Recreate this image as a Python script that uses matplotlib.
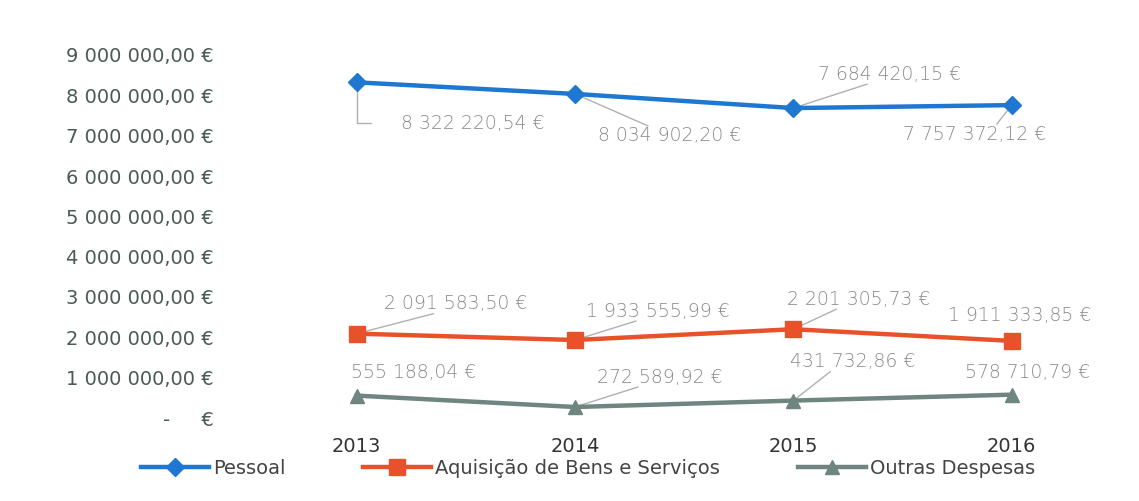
import matplotlib
matplotlib.use("Agg")
import matplotlib.pyplot as plt

years = ["2013", "2014", "2015", "2016"]
pessoal = [8322220.54, 8034902.20, 7684420.15, 7757372.12]
aquisicao = [2091583.50, 1933555.99, 2201305.73, 1911333.85]
outras = [555188.04, 272589.92, 431732.86, 578710.79]
series_names = ["Pessoal", "Aquisição de Bens e Serviços", "Outras Despesas"]
yticks = [0, 1e6, 2e6, 3e6, 4e6, 5e6, 6e6, 7e6, 8e6, 9e6]

def eur(v):
    s = f"{v:,.2f}".replace(",", " ").replace(".", ",")
    return s + " €"

def tick_eur(v):
    if v == 0:
        return "-     €"
    return eur(v)

fig = plt.figure(figsize=(11.39, 5.01), dpi=100)
ax = fig.add_axes([230/1139, (501-418)/501, (1110-230)/1139, (418-55)/501])

x = list(range(len(years)))
colors = ["#1E78D2", "#E8522A", "#6F8580"]
markers = ["D", "s", "^"]
msizes = [9, 12, 10]
data = [pessoal, aquisicao, outras]
for vals, c, m, ms, name in zip(data, colors, markers, msizes, series_names):
    ax.plot(x, vals, color=c, lw=3.2, marker=m, markersize=ms, label=name,
            clip_on=False, zorder=3)

# label offsets in pixels (text center relative to marker) and leader style
offsets = {
    0: [(116, -41, "L"), (95, -42, True), (96, 34, True), (-37, -29, True)],
    1: [(99, 30, True), (83, 29, True), (65, 30, True), (8, 25, False)],
    2: [(57, 23, False), (85, 30, True), (59, 39, True), (16, 22, False)],
}
for si, vals in enumerate(data):
    for i, v in enumerate(vals):
        dx, dy, lead = offsets[si][i]
        ax.annotate(eur(v), xy=(i, v), xytext=(dx, dy), textcoords="offset pixels",
                    ha="center", va="center", fontsize=13.5, color="#8a8a8a",
                    family="DejaVu Sans", fontweight="light", zorder=4)
        if lead is True:
            ax.annotate("", xy=(i, v),
                        xytext=(dx - 22 * (1 if dx > 0 else -1), dy - 10 * (1 if dy > 0 else -1)),
                        textcoords="offset pixels",
                        arrowprops=dict(arrowstyle="-", color="#b0b0b0", lw=1.0,
                                        shrinkA=0, shrinkB=0), zorder=2)
        elif lead == "L":
            ax.annotate("", xy=(i, v), xytext=(dx - 102, dy),
                        textcoords="offset pixels",
                        arrowprops=dict(arrowstyle="-", color="#b0b0b0", lw=1.0,
                                        shrinkA=0, shrinkB=0,
                                        connectionstyle="angle,angleA=0,angleB=90,rad=0"),
                        zorder=2)

ax.set_xlim(-0.58, 3.45)
ax.set_ylim(0, 9e6)
ax.set_xticks(x)
ax.set_xticklabels(years, fontsize=14, color="#333333")
ax.set_yticks(yticks)
ax.set_yticklabels([tick_eur(v) for v in yticks], fontsize=14, color="#4a5a55")
ax.tick_params(axis="both", length=0)
ax.tick_params(axis="y", pad=12)
ax.tick_params(axis="x", pad=14)
for s in ax.spines.values():
    s.set_visible(False)

leg = fig.legend(loc="center", bbox_to_anchor=(588/1139, 1 - 468/501), ncol=3,
                 frameon=False, fontsize=14, handlelength=3.5, columnspacing=4.0,
                 handletextpad=0.2, labelcolor="#444444")

fig.savefig("out.png", dpi=100)
